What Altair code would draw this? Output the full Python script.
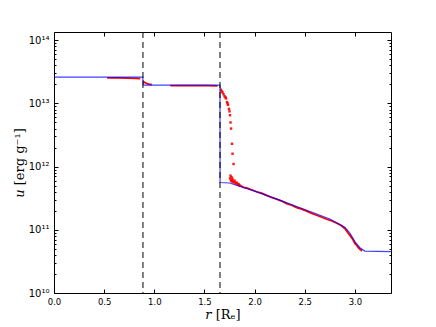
import altair as alt
import pandas as pd

# ---- data ----
blue_r = [0.0, 0.885, 0.89, 1.655, 1.656, 1.75, 2.0, 2.25, 2.5, 2.75, 2.9, 2.95, 3.0, 3.05, 3.1, 3.36]
blue_u = [2.6e13, 2.6e13, 1.95e13, 1.95e13, 5.6e11, 5.5e11, 4.1e11, 2.95e11, 2.1e11, 1.48e11,
          1.1e11, 8.9e10, 6.5e10, 5.2e10, 4.6e10, 4.5e10]

# red particles drawn as continuous bands (segment id) ...
red_line_r = [0.53, 0.63, 0.73, 0.82, 0.86,
              0.885, 0.895, 0.905, 0.915, 0.93, 0.945, 0.96, 0.975,
              1.16, 1.28, 1.40, 1.52, 1.63,
              1.76, 1.78, 1.80, 1.82, 1.85, 1.89, 1.92, 1.97, 2.02, 2.07, 2.12, 2.17, 2.22, 2.27, 2.32,
              2.37, 2.42, 2.47, 2.52, 2.57, 2.62, 2.67, 2.72, 2.77, 2.82, 2.86, 2.9, 2.93, 2.96, 2.98,
              3.0, 3.02, 3.04, 3.06, 3.07]
red_line_u = [2.54e13, 2.53e13, 2.52e13, 2.5e13, 2.46e13,
              2.3e13, 2.2e13, 2.15e13, 2.1e13, 2.05e13, 2.02e13, 2.0e13, 1.98e13,
              1.91e13, 1.91e13, 1.91e13, 1.91e13, 1.9e13,
              6.3e11, 6.0e11, 5.7e11, 5.5e11, 5.1e11, 4.7e11, 4.6e11, 4.3e11, 4.0e11, 3.8e11, 3.5e11,
              3.25e11, 3.05e11, 2.85e11, 2.6e11, 2.45e11, 2.25e11, 2.12e11, 1.98e11, 1.82e11,
              1.7e11, 1.58e11, 1.47e11, 1.38e11, 1.27e11, 1.18e11, 1.05e11, 9.0e10, 7.8e10, 7.0e10,
              6.1e10, 5.6e10, 5.1e10, 4.8e10, 4.6e10]
red_line_seg = [0] * 5 + [1] * 8 + [2] * 5 + [3] * 35

# ... and scattered particles behind the shock
red_pt_r = [1.665, 1.672, 1.68, 1.69, 1.70, 1.71, 1.715, 1.725, 1.73, 1.735, 1.745, 1.75, 1.755, 1.76,
            1.765, 1.775, 1.78, 1.79,
            1.755, 1.76, 1.765, 1.77, 1.775, 1.78, 1.79, 1.80, 1.81, 1.82, 1.83, 1.84, 1.85]
red_pt_u = [1.65e13, 1.55e13, 1.5e13, 1.4e13, 1.3e13, 1.25e13, 1.2e13, 1.05e13, 1.0e13, 9.5e12, 8.2e12,
            7.5e12, 6.5e12, 5.0e12, 4.0e12, 2.3e12, 1.6e12, 1.1e12,
            6.5e11, 7.2e11, 6.0e11, 6.8e11, 5.8e11, 6.4e11, 5.6e11, 6.0e11, 5.4e11, 5.6e11, 5.2e11,
            5.3e11, 5.0e11]

vlines = [0.887, 1.655]

x_ticks = [0.0, 0.5, 1.0, 1.5, 2.0, 2.5, 3.0]
y_ticks = [1e10, 1e11, 1e12, 1e13, 1e14]
y_tick_labels = ["10¹⁰", "10¹¹", "10¹²", "10¹³", "10¹⁴"]
y_minor = [k * 10.0 ** d for d in range(10, 14) for k in range(2, 10)]

X_DOMAIN = [0, 3.36]
Y_DOMAIN = [1e10, 1.35e14]

blue_df = pd.DataFrame({"r": blue_r, "u": blue_u, "i": list(range(len(blue_r)))})
red_line_df = pd.DataFrame({"r": red_line_r, "u": red_line_u, "seg": red_line_seg,
                            "i": list(range(len(red_line_r)))})
red_pt_df = pd.DataFrame({"r": red_pt_r, "u": red_pt_u})
vl_df = pd.DataFrame({"r": vlines})

xs = alt.Scale(domain=X_DOMAIN, nice=False, zero=False)
ys = alt.Scale(type="log", domain=Y_DOMAIN, nice=False)

label_expr = "[" + ",".join(f"'{s}'" for s in y_tick_labels) + "][round(log(datum.value)/LN10) - 10]"

main_x_axis = alt.Axis(orient="bottom", values=x_ticks, format=".1f", ticks=False, domain=False,
                       grid=False, labelFont="DejaVu Sans", labelFontSize=8.5, labelPadding=4,
                       labelFlush=False, labelColor="black", title="𝑟 [Rₑ]", titleFont="DejaVu Serif",
                       titleFontSize=13, titleFontWeight="normal", titlePadding=3, titleColor="black")
main_y_axis = alt.Axis(orient="left", values=y_ticks, labelExpr=label_expr, ticks=False, domain=False,
                       grid=False, labelFont="DejaVu Sans", labelFontSize=10, labelPadding=5,
                       labelColor="black", title="𝑢 [erg g⁻¹]", titleFont="DejaVu Serif",
                       titleFontSize=13, titleFontWeight="normal", titlePadding=2, titleColor="black")


def tick_axis(orient, values, size):
    return alt.Axis(orient=orient, values=values, labels=False, domain=False, grid=False,
                    ticks=True, tickSize=size, offset=-size, tickColor="black", tickWidth=1, title=None)


red_lines = alt.Chart(red_line_df).mark_line(color="red", strokeWidth=1.8).encode(
    x=alt.X("r:Q", scale=xs, axis=main_x_axis),
    y=alt.Y("u:Q", scale=ys, axis=main_y_axis),
    detail="seg:N",
    order="i:Q",
)

red_pts = alt.Chart(red_pt_df).mark_square(size=6, color="red", opacity=0.9).encode(
    x=alt.X("r:Q", scale=xs, axis=tick_axis("bottom", x_ticks, 4)),
    y=alt.Y("u:Q", scale=ys, axis=tick_axis("left", y_ticks, 4)),
)

blue = alt.Chart(blue_df).mark_line(color="blue", strokeWidth=1.2, opacity=0.75).encode(
    x=alt.X("r:Q", scale=xs, axis=tick_axis("top", x_ticks, 4)),
    y=alt.Y("u:Q", scale=ys, axis=tick_axis("right", y_ticks, 4)),
    order="i:Q",
)

hid2 = alt.Chart(blue_df).mark_point(opacity=0).encode(
    x=alt.X("r:Q", scale=xs, axis=None),
    y=alt.Y("u:Q", scale=ys, axis=tick_axis("left", y_minor, 2)),
)
hid3 = alt.Chart(blue_df).mark_point(opacity=0).encode(
    x=alt.X("r:Q", scale=xs, axis=None),
    y=alt.Y("u:Q", scale=ys, axis=tick_axis("right", y_minor, 2)),
)

rules = alt.Chart(vl_df).mark_rule(color="black", strokeWidth=1, strokeDash=[6, 4]).encode(
    x=alt.X("r:Q", scale=xs, axis=None),
)

chart = alt.layer(red_lines, red_pts, blue, hid2, hid3, rules).resolve_axis(
    x="independent", y="independent"
).properties(
    width=337, height=261,
    autosize=alt.AutoSizeParams(type="none"),
    padding={"left": 46, "top": 24, "right": 30, "bottom": 34},
    background="white",
).configure_view(stroke="black", strokeWidth=1)

chart.save("out.html", embed_options={"renderer": "svg", "actions": False})
